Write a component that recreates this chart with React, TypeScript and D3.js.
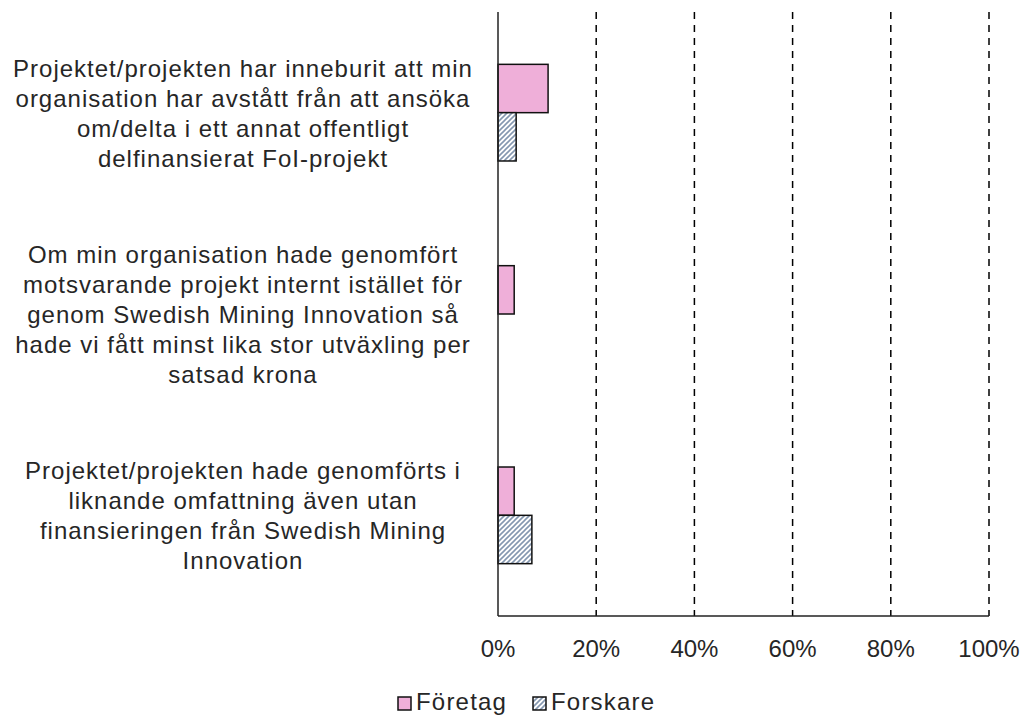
import React, { useEffect, useRef } from "react";
import * as d3 from "d3";

const categories = ["q1", "q2", "q3"];

const categoryLines = [
  [
    "Projektet/projekten har inneburit att min",
    "organisation har avstått från att ansöka",
    "om/delta i ett annat offentligt",
    "delfinansierat FoI-projekt",
  ],
  [
    "Om min organisation hade genomfört",
    "motsvarande projekt internt istället för",
    "genom Swedish Mining Innovation så",
    "hade vi fått minst lika stor utväxling per",
    "satsad krona",
  ],
  [
    "Projektet/projekten hade genomförts i",
    "liknande omfattning även utan",
    "finansieringen från Swedish Mining",
    "Innovation",
  ],
];

const seriesNames = ["Företag", "Forskare"];
const foretagValues = [0.102, 0.033, 0.033];
const forskareValues = [0.037, 0, 0.069];

const xTicks = [0, 0.2, 0.4, 0.6, 0.8, 1];

const App = () => {
  const svgRef = useRef(null);

  useEffect(() => {
    const width = 1024;
    const height = 717;
    const margin = { top: 12, right: 35, bottom: 101, left: 498 };
    const font = "'Liberation Sans', Arial, sans-serif";
    const textColor = "#262626";

    const svg = d3
      .select(svgRef.current)
      .attr("width", width)
      .attr("height", height)
      .style("background", "#fff");

    svg.selectAll("*").remove();

    const defs = svg.append("defs");
    const pattern = defs
      .append("pattern")
      .attr("id", "hatch")
      .attr("patternUnits", "userSpaceOnUse")
      .attr("width", 5)
      .attr("height", 5);
    pattern.append("rect").attr("width", 5).attr("height", 5).attr("fill", "#fff");
    pattern
      .append("path")
      .attr("d", "M-1,1 l2,-2 M0,5 l5,-5 M4,6 l2,-2")
      .attr("stroke", "#8497b0")
      .attr("stroke-width", 1.6);

    const xScale = d3
      .scaleLinear()
      .domain([0, 1])
      .range([margin.left, width - margin.right]);

    const yScale = d3
      .scaleBand()
      .domain(categories)
      .range([margin.top, height - margin.bottom])
      .paddingInner(0.52)
      .paddingOuter(0.26);

    const inner = d3
      .scaleBand()
      .domain(seriesNames)
      .range([0, yScale.bandwidth()]);

    // dashed gridlines
    svg
      .append("g")
      .selectAll("line")
      .data(xTicks.slice(1))
      .enter()
      .append("line")
      .attr("x1", (d) => xScale(d))
      .attr("x2", (d) => xScale(d))
      .attr("y1", margin.top)
      .attr("y2", height - margin.bottom)
      .attr("stroke", "#000")
      .attr("stroke-width", 1.5)
      .attr("stroke-dasharray", "7,6");

    const fills = { Företag: "#efafd9", Forskare: "url(#hatch)" };
    const rows = categories.flatMap((c, i) => [
      { cat: c, series: "Företag", value: foretagValues[i] },
      { cat: c, series: "Forskare", value: forskareValues[i] },
    ]);

    svg
      .append("g")
      .selectAll("rect")
      .data(rows.filter((d) => d.value > 0))
      .enter()
      .append("rect")
      .attr("x", xScale(0))
      .attr("y", (d) => yScale(d.cat) + inner(d.series))
      .attr("width", (d) => xScale(d.value) - xScale(0))
      .attr("height", inner.bandwidth())
      .attr("fill", (d) => fills[d.series])
      .attr("stroke", "#111")
      .attr("stroke-width", 1.5);

    // axes lines
    svg
      .append("line")
      .attr("x1", xScale(0))
      .attr("x2", xScale(0))
      .attr("y1", margin.top)
      .attr("y2", height - margin.bottom)
      .attr("stroke", "#222")
      .attr("stroke-width", 1.5);
    svg
      .append("line")
      .attr("x1", xScale(0))
      .attr("x2", xScale(1))
      .attr("y1", height - margin.bottom)
      .attr("y2", height - margin.bottom)
      .attr("stroke", "#222")
      .attr("stroke-width", 1.5);

    // x tick labels
    svg
      .append("g")
      .selectAll("text")
      .data(xTicks)
      .enter()
      .append("text")
      .attr("x", (d) => xScale(d))
      .attr("y", 657)
      .attr("text-anchor", "middle")
      .style("font-family", font)
      .style("font-size", "24px")
      .attr("fill", textColor)
      .text((d) => d3.format(".0%")(d));

    // category labels
    const lineHeight = 30;
    categories.forEach((c, i) => {
      const lines = categoryLines[i];
      const cy = yScale(c) + yScale.bandwidth() / 2;
      const startY = cy - ((lines.length - 1) * lineHeight) / 2;
      svg
        .append("text")
        .attr("text-anchor", "middle")
        .attr("dominant-baseline", "central")
        .style("font-family", font)
        .style("font-size", "24px")
        .style("letter-spacing", "1px")
        .attr("fill", textColor)
        .selectAll("tspan")
        .data(lines)
        .enter()
        .append("tspan")
        .attr("x", 243)
        .attr("y", (d, j) => startY + j * lineHeight)
        .text((d) => d);
    });

    // legend
    const legend = svg.append("g").attr("transform", "translate(398,697)");
    const legendX = [0, 135];
    seriesNames.forEach((name, i) => {
      legend
        .append("rect")
        .attr("x", legendX[i])
        .attr("y", 0)
        .attr("width", 13)
        .attr("height", 13)
        .attr("fill", fills[name])
        .attr("stroke", "#111")
        .attr("stroke-width", 1.5);
      legend
        .append("text")
        .attr("x", legendX[i] + 18)
        .attr("y", 13)
        .style("font-family", font)
        .style("font-size", "24px")
        .style("letter-spacing", "1.2px")
        .attr("fill", textColor)
        .text(name);
    });
  }, []);

  return (
    <div style={{ position: "absolute", left: 0, top: 0 }}>
      <svg ref={svgRef}></svg>
    </div>
  );
};

export default App;
